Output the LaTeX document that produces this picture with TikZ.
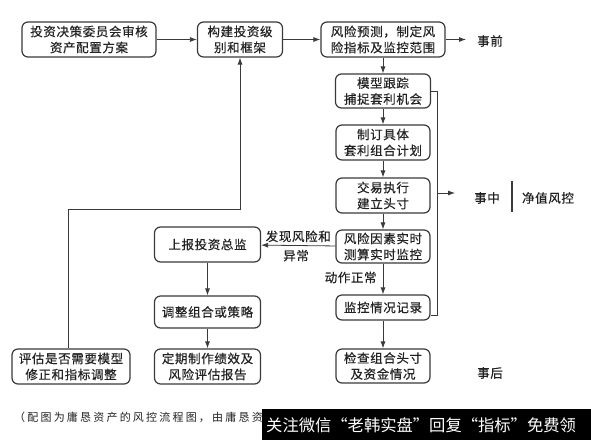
\documentclass[tikz,border=0pt]{standalone}
\usepackage{fontspec}
\setmainfont{Noto Sans CJK SC}
\newfontfamily\wmfont{Noto Sans CJK SC}
\newfontfamily\boxfont[FakeBold=0.4,LetterSpace=5]{Noto Sans CJK SC}
\usetikzlibrary{arrows.meta}
\definecolor{ink}{HTML}{222222}
\definecolor{linec}{HTML}{3A3A3A}
\begin{document}
\begin{tikzpicture}[x=1pt,y=-1pt,
  box/.style={draw=linec, line width=1.2pt, rounded corners=6pt, align=center,
    inner sep=0pt, text=ink,
    font=\boxfont\fontsize{12.5}{16}\selectfont},
  arr/.style={draw=linec, line width=0.8pt, -{Latex[length=7pt,width=5pt]}},
  ln/.style={draw=linec, line width=0.8pt},
  lbl/.style={text=ink, inner sep=0pt, font=\boxfont\fontsize{12.5}{16}\selectfont}]
\useasboundingbox[fill=white] (0,0) rectangle (591,440);

% main column
\node[box, minimum width=134pt, minimum height=35pt] (A) at (89,39.5) {投资决策委员会审核\\资产配置方案};
\node[box, minimum width=85pt, minimum height=35pt] (B) at (240,39.5) {构建投资级\\别和框架};
\node[box, minimum width=124pt, minimum height=35pt] (C) at (383,39.5) {风险预测，制定风\\险指标及监控范围};
\node[box, minimum width=95pt, minimum height=34pt] (D) at (383,91) {模型跟踪\\捕捉套利机会};
\node[box, minimum width=94pt, minimum height=35pt] (E) at (383,142.5) {制订具体\\套利组合计划};
\node[box, minimum width=94pt, minimum height=35pt] (F) at (383,195.5) {交易执行\\建立头寸};
\node[box, minimum width=94pt, minimum height=33pt] (G) at (383,246.5) {风险因素实时\\测算实时监控};
\node[box, minimum width=94pt, minimum height=25pt] (H) at (383,307.5) {监控情况记录};
\node[box, minimum width=94pt, minimum height=34pt] (I) at (383,366) {检查组合头寸\\及资金情况};

% left column
\node[box, minimum width=106pt, minimum height=35pt] (J) at (207.5,244.5) {上报投资总监};
\node[box, minimum width=106pt, minimum height=32pt] (K) at (207.5,312) {调整组合或策略};
\node[box, minimum width=106pt, minimum height=35pt] (L) at (207.5,366.5) {定期制作绩效及\\风险评估报告};
\node[box, minimum width=118pt, minimum height=35pt] (M) at (71,366.5) {评估是否需要模型\\修正和指标调整};

% stage labels
\node[lbl] (pre) at (490,41) {事前};
\node[lbl] (mid) at (487,198) {事中};
\node[lbl] (nv) at (548,198) {净值风控};
\node[lbl] (post) at (490,373) {事后};
\coordinate (bar1) at (512,181);
\coordinate (bar2) at (512,212);
\draw[ln, line width=1.2pt] (bar1) -- (bar2);

% connectors
\draw[arr] (A) -- (B);
\draw[arr] (B) -- (C);
\coordinate (preEnd) at (466,39.5);
\draw[arr] (C.east) -- (preEnd);
\draw[arr] (C) -- (D);
\draw[arr] (D) -- (E);
\draw[arr] (E) -- (F);
\draw[arr] (F) -- (G);
\draw[arr] (G) -- node[lbl, left=6pt, pos=0.45] (ok) {动作正常} (H);
\draw[arr] (H) -- (I);
\draw[arr] (G) -- node[lbl, above=3pt, pos=0.5] (risk1) {发现风险和} node[lbl, below=4pt, pos=0.53] (risk2) {异常} (J);
\draw[arr] (J) -- (K);
\draw[arr] (K) -- (L);

% bracket on the right
\coordinate (br1) at (437,91);
\coordinate (br2) at (437,315);
\coordinate (brm) at (437,193);
\coordinate (midEnd) at (455,193);
\draw[ln] (D.east |- br1) -- (br1) -- (br2) -- (H.east |- br2);
\draw[arr] (brm) -- (midEnd);

% feedback
\coordinate (fb1) at (68,209);
\coordinate (fb2) at (240,209);
\draw[arr] (M.north -| fb1) -- (fb1) -- (fb2) -- (B.south);

% caption and overlay
\node[anchor=west, inner sep=0pt, text=ink, font=\fontsize{11}{13}\selectfont\addfontfeature{LetterSpace=20}] (cap) at (14,417) {（配图为庸恳资产的风控流程图，由庸恳资产提供）};
\node[anchor=north west, fill=black, minimum width=329pt, minimum height=31pt, inner sep=0pt] (wm) at (262,409) {};
\node[anchor=west, inner sep=0pt, text=white, font=\wmfont\fontsize{16.3}{18}\selectfont] (wmt) at (266,425) {关注微信“老韩实盘”回复“指标”免费领};
\end{tikzpicture}
\end{document}
